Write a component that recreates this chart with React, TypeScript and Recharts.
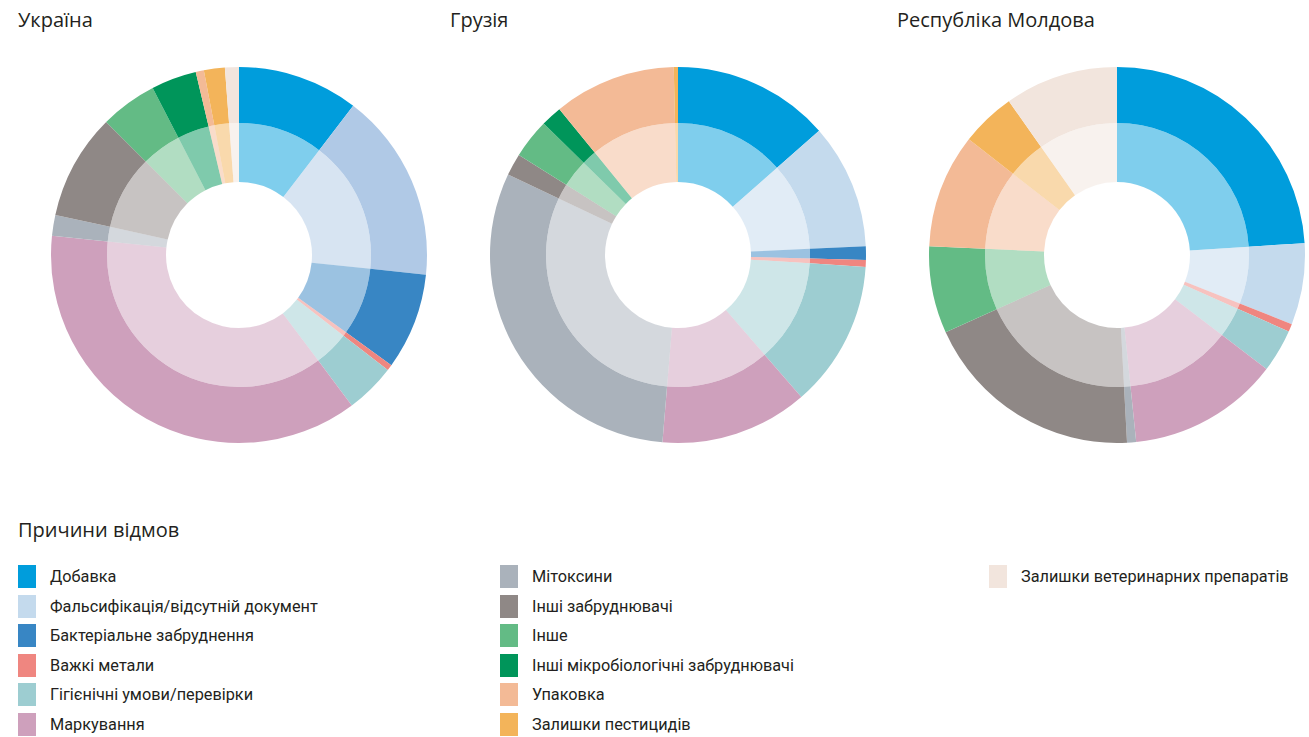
import { PieChart, Pie, Cell } from "recharts";

// categories, in the clockwise order they appear on the rings
const categories = [
  "Добавка",
  "Фальсифікація/відсутній документ",
  "Бактеріальне забруднення",
  "Важкі метали",
  "Гігієнічні умови/перевірки",
  "Маркування",
  "Мітоксини",
  "Інші забруднювачі",
  "Інше",
  "Інші мікробіологічні забруднювачі",
  "Упаковка",
  "Залишки пестицидів",
  "Залишки ветеринарних препаратів",
];

const COLORS = [
  "#009ddc", "#c4daed", "#3886c4", "#ef8680", "#9dcdd1", "#cea0bc", "#aab2bb",
  "#8f8886", "#63bb85", "#00955a", "#f3ba96", "#f3b45a", "#f2e5dd",
];

// share of rejections, %
const ukraine = [10.4, 16.3, 8.3, 0.5, 4.3, 36.9, 1.8, 9.1, 4.9, 3.9, 0.7, 1.8, 1.2];
const georgia = [13.5, 10.75, 1.17, 0.58, 12.6, 12.7, 30.7, 1.9, 3.4, 1.8, 10.5, 0.36, 0];
const moldova = [24, 7.0, 0, 0.67, 3.7, 13.0, 0.78, 19.1, 7.5, 0, 9.8, 4.7, 9.75];

const countries = ["Україна", "Грузія", "Республіка Молдова"];
const countryValues = [ukraine, georgia, moldova];

const legendTitle = "Причини відмов";

const centers = [239, 678, 1117];
const titleX = [18, 450, 897];

const textColor = "#231f20";
const legendFont = "'Liberation Sans Narrow', 'Roboto', sans-serif";

const Donut = ({ values, cx, idx }: { values: number[]; cx: number; idx: number }) => {
  const data = categories.map((name, i) => ({ name, value: values[i] }));
  // Ukraine's falsification slice is a touch darker in the original
  const fillFor = (i: number) => (idx === 0 && i === 1 ? "#b0c9e6" : COLORS[i]);
  return (
    <>
      <Pie
        data={data}
        dataKey="value"
        cx={cx}
        cy={255}
        startAngle={90}
        endAngle={-270}
        innerRadius={132}
        outerRadius={188}
        stroke="none"
        isAnimationActive={false}
      >
        {data.map((entry, i) => (
          <Cell key={`o-${idx}-${i}`} fill={fillFor(i)} />
        ))}
      </Pie>
      <Pie
        data={data}
        dataKey="value"
        cx={cx}
        cy={255}
        startAngle={90}
        endAngle={-270}
        innerRadius={73}
        outerRadius={132}
        stroke="none"
        isAnimationActive={false}
      >
        {data.map((entry, i) => (
          <Cell key={`i-${idx}-${i}`} fill={fillFor(i)} fillOpacity={0.5} />
        ))}
      </Pie>
    </>
  );
};

const legendCols = [
  { x: 18, items: [0, 1, 2, 3, 4, 5] },
  { x: 500, items: [6, 7, 8, 9, 10, 11] },
  { x: 989, items: [12] },
];

export default function App() {
  return (
    <div style={{ position: "absolute", left: 0, top: 0, width: 1309, height: 737, background: "#fff" }}>
      <PieChart width={1309} height={480} margin={{ top: 0, right: 0, bottom: 0, left: 0 }}>
        {countryValues.map((vals, k) => Donut({ values: vals, cx: centers[k], idx: k }))}
      </PieChart>
      {countries.map((c, k) => (
        <div
          key={c}
          style={{
            position: "absolute",
            left: titleX[k],
            top: 6,
            fontFamily: "'Open Sans', sans-serif",
            fontSize: 20,
            color: textColor,
            whiteSpace: "nowrap",
          }}
        >
          {c}
        </div>
      ))}
      <div
        style={{
          position: "absolute",
          left: 18,
          top: 516,
          fontFamily: "'Open Sans', sans-serif",
          fontSize: 20,
          color: textColor,
        }}
      >
        {legendTitle}
      </div>
      {legendCols.map((col) =>
        col.items.map((ci, r) => (
          <div
            key={ci}
            style={{
              position: "absolute",
              left: col.x,
              top: 565 + r * 29.5,
              height: 23,
              display: "flex",
              alignItems: "center",
              whiteSpace: "nowrap",
            }}
          >
            <div style={{ width: 18, height: 23, background: COLORS[ci], marginRight: 14 }} />
            <span style={{ fontFamily: legendFont, fontSize: 16.3, color: textColor }}>{categories[ci]}</span>
          </div>
        ))
      )}
    </div>
  );
}
